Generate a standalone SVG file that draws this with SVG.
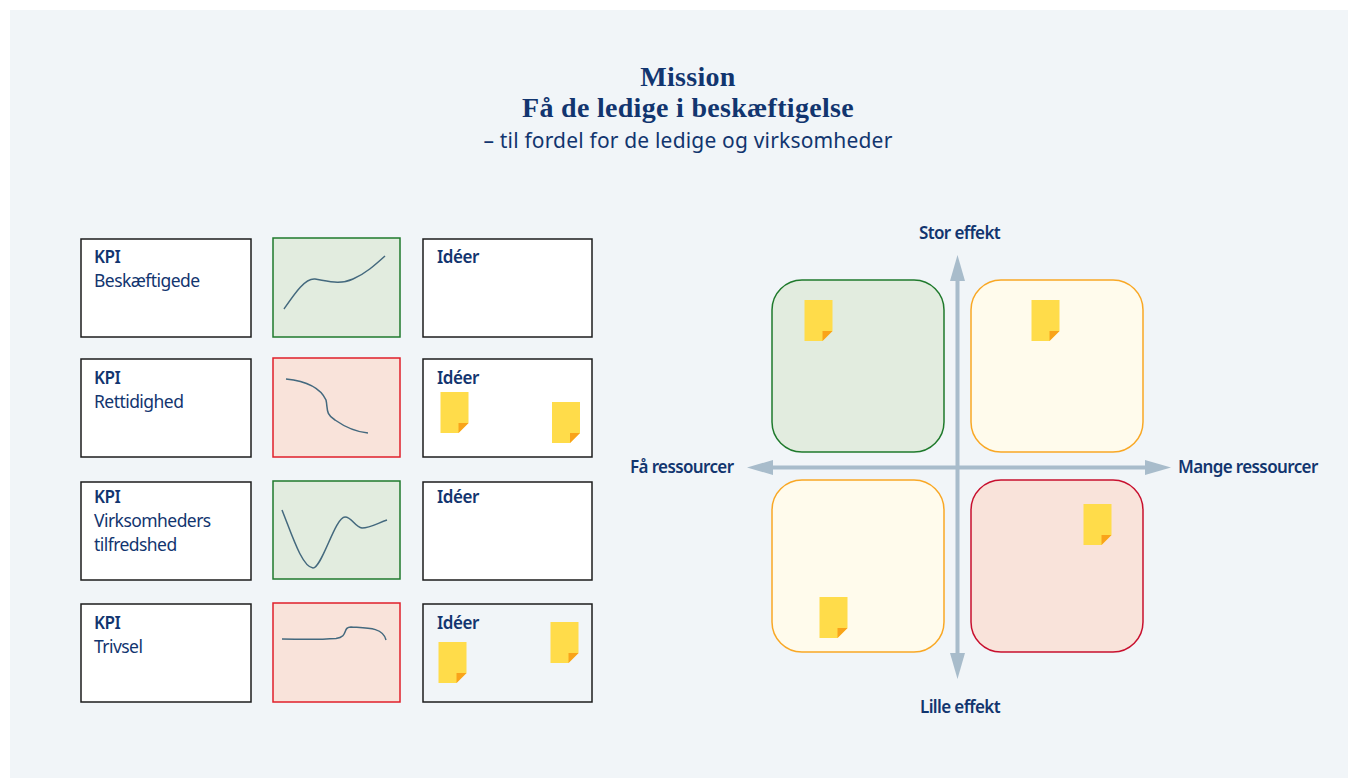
<svg xmlns="http://www.w3.org/2000/svg" xmlns:xlink="http://www.w3.org/1999/xlink" width="1348" height="778" viewBox="0 0 1348 778">
<style>
text{fill:#12356f;font-family:"Noto Sans","Open Sans",sans-serif}
.h{font-family:"Liberation Serif",serif;font-weight:700;font-size:28px;letter-spacing:.3px;text-anchor:middle}
.s{font-size:21px;letter-spacing:.18px;text-anchor:middle}
.b{font-size:17px;font-weight:600;letter-spacing:-.45px}
.t{font-size:17.500px;letter-spacing:-.55px}
.ax{font-size:17px;font-weight:600;letter-spacing:-.62px}
.k{fill:#fff;stroke:#1c1c1c;stroke-width:1.500}
.cg{fill:#e2ecdf;stroke:#1f7a2c;stroke-width:1.500}
.cr{fill:#f9e3da;stroke:#e01f2a;stroke-width:1.500}
.cv{fill:none;stroke:#44697e;stroke-width:1.500}
.qg{fill:#e2ecdf;stroke:#1f7a2c;stroke-width:1.500}
.qy{fill:#fffbec;stroke:#f9a825;stroke-width:1.500}
.qr{fill:#f9e3da;stroke:#c8102e;stroke-width:1.500}
.ar{stroke:#a8bccb;stroke-width:4;fill:none}
.ah{fill:#a8bccb}
</style>
<defs>
<g id="note"><path d="M0 0H28V31L18 41H0Z" fill="#ffdc4a"/><path d="M18 41V31H28Z" fill="#f9a31a"/></g>
</defs>
<rect width="1348" height="778" fill="#fff"/>
<rect x="10" y="10" width="1338" height="768" fill="#f1f5f8"/>
<g id="title">
<text class="h" x="688" y="86">Mission</text>
<text class="h" x="688" y="117">Få de ledige i beskæftigelse</text>
<text class="s" x="688" y="148">– til fordel for de ledige og virksomheder</text>
</g>
<g id="kpi1"><rect class="k" x="81" y="239" width="170" height="98"/><text class="b" x="94" y="263">KPI</text><text class="t" x="94" y="287">Beskæftigede</text></g>
<g id="chart1"><rect class="cg" x="273" y="238" width="127" height="99"/><path class="cv" d="M284 309C295 293 305 278 315 279C328 281 340 285 353 279C365 274 375 265 385 256"/></g>
<g id="ideas1"><rect class="k" x="423" y="239" width="169" height="98"/><text class="b" x="437" y="263">Idéer</text></g>
<g id="kpi2"><rect class="k" x="81" y="359" width="170" height="98"/><text class="b" x="94" y="384">KPI</text><text class="t" x="94" y="408">Rettidighed</text></g>
<g id="chart2"><rect class="cr" x="273" y="358" width="127" height="99"/><path class="cv" d="M286 379C305 381 320 387 326 400C328 408 325 414 335 420C345 427 357 432 368 433"/></g>
<g id="ideas2"><rect class="k" x="423" y="359" width="169" height="98"/><text class="b" x="437" y="384">Idéer</text><use xlink:href="#note" href="#note" x="440.500" y="392"/><use xlink:href="#note" href="#note" x="552" y="402"/></g>
<g id="kpi3"><rect class="k" x="81" y="482" width="170" height="98"/><text class="b" x="94" y="503">KPI</text><text class="t" x="94" y="527">Virksomheders</text><text class="t" x="94" y="551">tilfredshed</text></g>
<g id="chart3"><rect class="cg" x="273" y="481" width="127" height="98"/><path class="cv" d="M282 510C292 535 302 567 313 568C322 568 335 517 345 517C352 517 355 527 362 528C370 528 378 523 387 520"/></g>
<g id="ideas3"><rect class="k" x="423" y="482" width="169" height="98"/><text class="b" x="437" y="503">Idéer</text></g>
<g id="kpi4"><rect class="k" x="81" y="604" width="170" height="98"/><text class="b" x="94" y="629">KPI</text><text class="t" x="94" y="653">Trivsel</text></g>
<g id="chart4"><rect class="cr" x="273" y="603" width="127" height="99"/><path class="cv" d="M282 639C302 639.500 322 639.500 336 638.500C349 637 342 627 351 627C366 628 383 627 386 640"/></g>
<g id="ideas4"><rect x="423" y="604" width="169" height="98" fill="#f1f5f8" stroke="#1c1c1c" stroke-width="1.500"/><text class="b" x="437" y="629">Idéer</text><use xlink:href="#note" href="#note" x="550.500" y="622"/><use xlink:href="#note" href="#note" x="438.500" y="642"/></g>
<g id="quadrants">
<g id="q1"><rect class="qg" x="772" y="280" width="172" height="172" rx="30"/><use xlink:href="#note" href="#note" x="804.500" y="300"/></g>
<g id="q2"><rect class="qy" x="971" y="280" width="172" height="172" rx="30"/><use xlink:href="#note" href="#note" x="1031.500" y="300"/></g>
<g id="q3"><rect class="qy" x="772" y="480" width="172" height="172" rx="30"/><use xlink:href="#note" href="#note" x="819.500" y="597"/></g>
<g id="q4"><rect class="qr" x="971" y="480" width="172" height="172" rx="30"/><use xlink:href="#note" href="#note" x="1083.500" y="504"/></g>
</g>
<g id="connectors">
<path class="ar" d="M957.500 275V655"/><path class="ar" d="M770 467.500H1148"/>
<path class="ah" d="M957.500 255L965 281H950Z"/><path class="ah" d="M957.500 679L965 653H950Z"/>
<path class="ah" d="M747 467.500L773 460V475Z"/><path class="ah" d="M1171 467.500L1145 460V475Z"/>
</g>
<g id="axis-labels">
<text class="ax" x="959.500" y="239" text-anchor="middle">Stor effekt</text>
<text class="ax" x="960" y="713" text-anchor="middle">Lille effekt</text>
<text class="ax" x="630" y="473">Få ressourcer</text>
<text class="ax" x="1178" y="473">Mange ressourcer</text>
</g>
</svg>
